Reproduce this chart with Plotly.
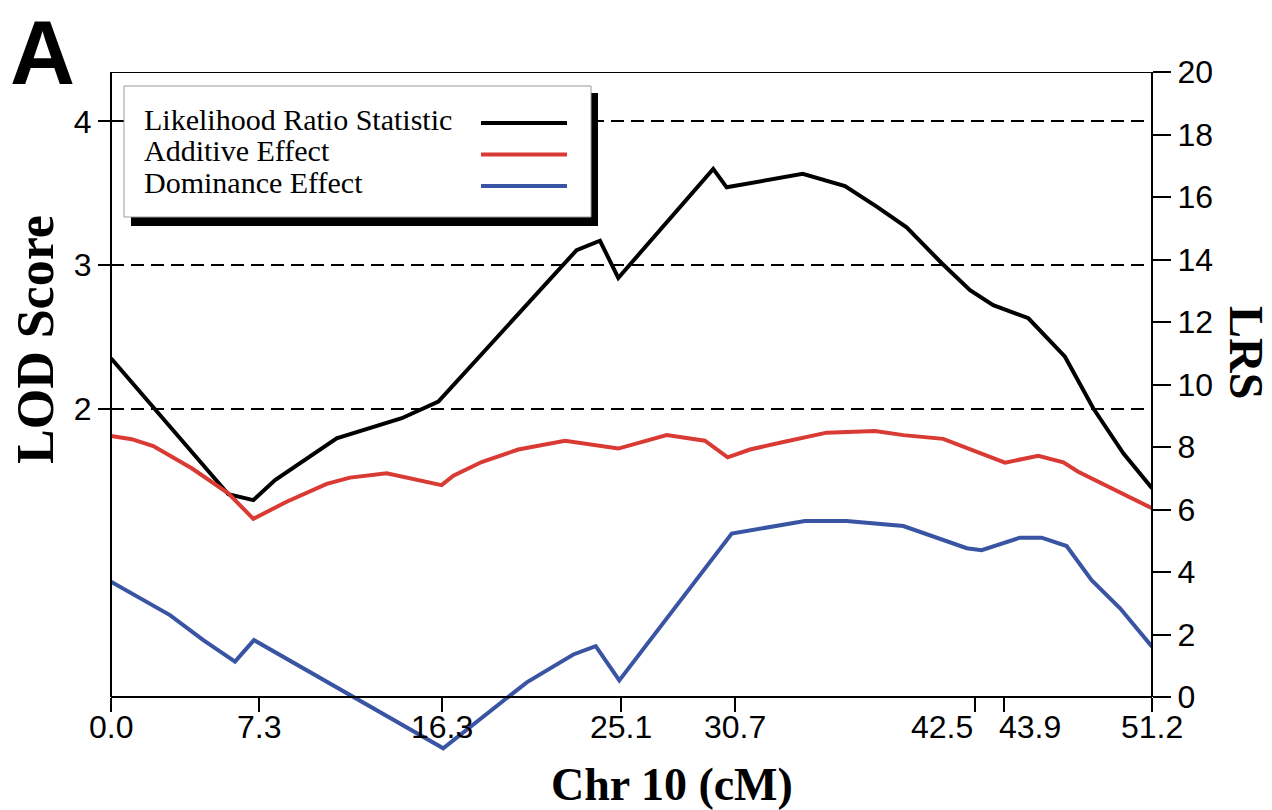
import plotly.graph_objects as go

# ---------------- data ----------------
pos_lrs = [0.0, 5.77, 7.0, 8.07, 11.10, 14.30, 16.10, 22.90, 24.05, 24.95, 29.62, 30.28,
           34.02, 36.10, 37.66, 39.13, 40.86, 42.25, 43.39, 45.12, 46.92, 48.31, 49.79, 51.2]
lrs = [10.84, 6.49, 6.30, 6.94, 8.28, 8.92, 9.45, 14.30, 14.60, 13.41, 16.90, 16.31,
       16.74, 16.35, 15.69, 15.03, 13.88, 13.02, 12.54, 12.12, 10.89, 9.24, 7.80, 6.68]

pos_add = [0.0, 1.02, 2.08, 3.97, 5.77, 7.0, 8.64, 10.61, 11.75, 13.56, 16.26, 16.84, 18.23,
           20.03, 22.33, 24.95, 27.33, 29.21, 30.33, 31.43, 33.07, 35.20, 37.58, 38.97,
           40.93, 42.58, 43.97, 45.61, 46.84, 47.57, 49.05, 51.2]
additive = [8.35, 8.25, 8.03, 7.32, 6.52, 5.70, 6.25, 6.82, 7.02, 7.16, 6.78, 7.08, 7.52,
            7.92, 8.20, 7.95, 8.38, 8.20, 7.67, 7.92, 8.16, 8.46, 8.51, 8.38,
            8.26, 7.85, 7.50, 7.72, 7.51, 7.21, 6.73, 6.04]

pos_dom = [0.0, 2.90, 4.54, 6.10, 7.03, 16.34, 20.45, 22.74, 23.84, 25.0, 30.53, 34.13,
           36.18, 38.97, 42.09, 42.82, 44.71, 45.77, 47.00, 48.23, 49.63, 51.2]
dominance = [3.69, 2.62, 1.82, 1.13, 1.82, -1.64, 0.47, 1.36, 1.63, 0.53, 5.23, 5.63,
             5.63, 5.47, 4.76, 4.70, 5.10, 5.10, 4.83, 3.74, 2.84, 1.61]

x_tick_vals = [0.0, 7.3, 16.3, 25.1, 30.7, 42.5, 43.9, 51.2]
x_tick_text = ["0.0", "7.3", "16.3", "25.1", "30.7", "42.5", "43.9", "51.2"]
lod_ticks = [2, 3, 4]
lrs_ticks = [0, 2, 4, 6, 8, 10, 12, 14, 16, 18, 20]

series_names = ["Likelihood Ratio Statistic", "Additive Effect", "Dominance Effect"]
series_colors = ["#000000", "#d93a33", "#3a54a4"]

# ---------------- geometry ----------------
W, H = 1272, 810
ML, MR, MT, MB = 111, 120, 72, 38
LRS_MIN, LRS_MAX = -2.4, 20.0
LOD_PER_LRS = 1 / 4.605
PW, PH = W - ML - MR, H - MT - MB


def px(xp):
    return (xp - ML) / PW


def py(yp):
    return (H - MB - yp) / PH


SERIF = "Liberation Serif, Times New Roman, serif"
SANS = "Liberation Sans, Arial, Helvetica, sans-serif"
TICK_FONT = dict(family=SANS, size=32, color="black")

fig = go.Figure()
for xs, ys, name, col in zip([pos_lrs, pos_add, pos_dom], [lrs, additive, dominance],
                             series_names, series_colors):
    fig.add_trace(go.Scatter(x=xs, y=ys, mode="lines", name=name, yaxis="y",
                             line=dict(color=col, width=4), showlegend=False))
# empty helper traces so the overlay LOD axes are materialised
for ax in ["y2", "y3"]:
    fig.add_trace(go.Scatter(x=[None], y=[None], yaxis=ax, showlegend=False,
                             hoverinfo="skip", mode="lines"))

x_pos = (0 - LRS_MIN) / (LRS_MAX - LRS_MIN)
lod_range = [LRS_MIN * LOD_PER_LRS, LRS_MAX * LOD_PER_LRS]

fig.update_layout(
    width=W, height=H, margin=dict(l=ML, r=MR, t=MT, b=MB),
    paper_bgcolor="white", plot_bgcolor="white", showlegend=False,
    xaxis=dict(range=[0, 51.2], anchor="free", position=x_pos, showline=True,
               linecolor="black", linewidth=2, ticks="outside", ticklen=14, tickwidth=2,
               tickcolor="black", tickvals=x_tick_vals, showticklabels=False,
               showgrid=False, zeroline=False),
    # LRS axis (right)
    yaxis=dict(range=[LRS_MIN, LRS_MAX], side="right", anchor="x",
               tickvals=lrs_ticks, ticks="outside", ticklen=18, tickwidth=2,
               tickcolor="black", tickfont=TICK_FONT,
               showgrid=False, zeroline=False, showline=False),
    # LOD axis (left) with dashed grid
    yaxis2=dict(range=lod_range, overlaying="y", side="left", anchor="x", tickvals=lod_ticks,
                ticks="outside", ticklen=12, tickwidth=2, tickcolor="black",
                tickfont=TICK_FONT,
                showgrid=True, gridcolor="black", gridwidth=2, griddash="13px,7px",
                showline=False, zeroline=False),
    yaxis3=dict(range=lod_range, overlaying="y", side="left", anchor="x",
                tickvals=lod_ticks, ticks="inside", ticklen=7, tickwidth=2,
                tickcolor="black", showticklabels=False, showgrid=False, zeroline=False,
                showline=False),
)

shapes = []
axis_line = dict(color="black", width=2)
shapes.append(dict(type="line", xref="paper", yref="y", x0=0, x1=0, y0=0, y1=LRS_MAX,
                   line=axis_line))
shapes.append(dict(type="line", xref="paper", yref="y", x0=1, x1=1, y0=0, y1=LRS_MAX,
                   line=axis_line))
shapes.append(dict(type="line", xref="paper", yref="y", x0=0, x1=1, y0=LRS_MAX, y1=LRS_MAX,
                   line=axis_line))
# legend shadow and box
shapes.append(dict(type="rect", xref="paper", yref="paper", x0=px(131), x1=px(598),
                   y0=py(226), y1=py(93), fillcolor="black", line=dict(width=0),
                   layer="above"))
shapes.append(dict(type="rect", xref="paper", yref="paper", x0=px(124), x1=px(591),
                   y0=py(217), y1=py(86), fillcolor="white",
                   line=dict(color="#9a9a9a", width=1), layer="above"))
annotations = []
for i, (name, col) in enumerate(zip(series_names, series_colors)):
    yc = 123 + 31.5 * i
    shapes.append(dict(type="line", xref="paper", yref="paper", x0=px(481), x1=px(567),
                       y0=py(yc), y1=py(yc), line=dict(color=col, width=4), layer="above"))
    annotations.append(dict(text=name, xref="paper", yref="paper", x=px(142), y=py(yc - 4),
                            xanchor="left", yanchor="middle", showarrow=False,
                            font=dict(family=SERIF, size=30, color="black")))

# x tick labels
label_adjust = {"42.5": ("right", 0), "43.9": ("left", -7)}
for v, t in zip(x_tick_vals, x_tick_text):
    anc, sh = label_adjust.get(t, ("center", 0))
    annotations.append(dict(text=t, x=v, xref="x", y=x_pos, yref="paper", xanchor=anc,
                            xshift=sh, yanchor="top", yshift=-10, showarrow=False,
                            font=TICK_FONT))

annotations += [
    dict(text="<b>A</b>", xref="paper", yref="paper", x=px(42), y=py(53), xanchor="center",
         yanchor="middle", showarrow=False, font=dict(family=SANS, size=90, color="black")),
    dict(text="<b>LOD Score</b>", xref="paper", yref="paper", x=px(35), y=py(340),
         xanchor="center", yanchor="middle", textangle=-90, showarrow=False,
         font=dict(family=SERIF, size=52, color="black")),
    dict(text="<b>LRS</b>", xref="paper", yref="paper", x=px(1247), y=py(352),
         xanchor="center", yanchor="middle", textangle=90, showarrow=False,
         font=dict(family=SERIF, size=48, color="black")),
    dict(text="<b>Chr 10 (cM)</b>", xref="paper", yref="paper", x=px(672), y=py(784),
         xanchor="center", yanchor="middle", showarrow=False,
         font=dict(family=SERIF, size=46, color="black")),
]

fig.update_layout(shapes=shapes, annotations=annotations)
fig.write_html("out.html")
